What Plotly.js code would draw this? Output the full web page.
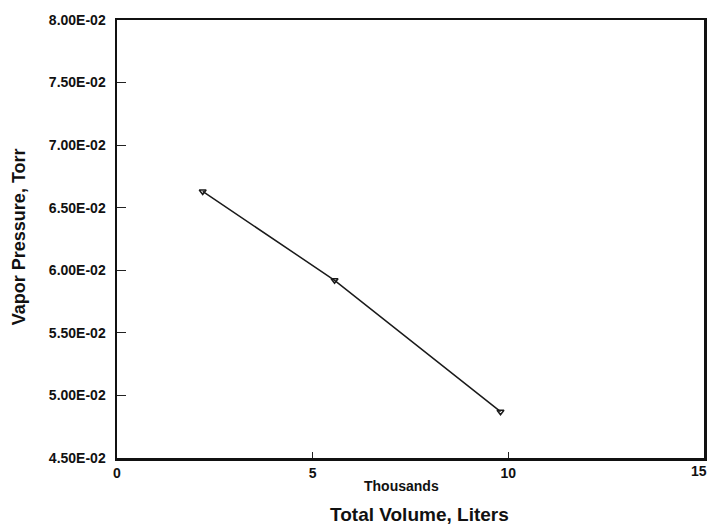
<!DOCTYPE html>
<html>
<head>
<meta charset="utf-8">
<script src="https://cdn.plot.ly/plotly-3.0.1.min.js"></script>
<style>html,body{margin:0;padding:0;background:#fff;}#chart{width:710px;height:529px;}</style>
</head>
<body>
<div id="chart"></div>
<script>
// Data (x in thousands of liters, y in Torr)
var volumeThousands = [2.19, 5.56, 9.8];
var vaporPressure = [0.0663, 0.0592, 0.0487];

var yTickVals = [0.045, 0.05, 0.055, 0.06, 0.065, 0.07, 0.075, 0.08];
var yTickText = ["4.50E-02", "5.00E-02", "5.50E-02", "6.00E-02", "6.50E-02", "7.00E-02", "7.50E-02", "8.00E-02"];
var xTickVals = [0, 5, 10, 15];
var xTickText = ["0", "5", "10", "15"];

var FONT = "Liberation Sans, Arial, Helvetica, sans-serif";

var trace = {
  x: volumeThousands,
  y: vaporPressure,
  mode: "lines+markers",
  line: {color: "#1a1a1a", width: 1.5},
  marker: {symbol: "triangle-down-open", size: 6, color: "#1a1a1a", line: {width: 1.5, color: "#1a1a1a"}},
  showlegend: false,
  hoverinfo: "skip"
};

// last x tick label sits at the right edge; draw it as an annotation so it stays inside the page
var lastIdx = xTickText.length - 1;
var shownXText = xTickText.map(function (t, i) { return i === lastIdx ? "" : t; });

var layout = {
  width: 710,
  height: 529,
  margin: {l: 117, r: 6, t: 20, b: 71},
  paper_bgcolor: "#ffffff",
  plot_bgcolor: "#ffffff",
  font: {family: FONT, color: "#111111", size: 14},
  xaxis: {
    range: [0, 15],
    tickvals: xTickVals,
    ticktext: shownXText,
    ticks: "inside",
    ticklen: 6,
    tickwidth: 1,
    tickcolor: "#222",
    showgrid: false,
    zeroline: false,
    showline: true,
    linewidth: 2.5,
    linecolor: "#111",
    mirror: true,
    tickfont: {family: FONT, size: 14, color: "#111", weight: "bold"},
    ticklabelstandoff: 1
  },
  yaxis: {
    range: [0.045, 0.08],
    tickvals: yTickVals,
    ticktext: yTickText,
    ticks: "inside",
    ticklen: 9,
    tickwidth: 1,
    tickcolor: "#222",
    showgrid: false,
    zeroline: false,
    showline: true,
    linewidth: 2.5,
    linecolor: "#111",
    mirror: true,
    tickfont: {family: FONT, size: 14, color: "#111", weight: "bold"},
    ticklabelstandoff: 6
  },
  annotations: [
    {text: "<b>" + xTickText[lastIdx] + "</b>", xref: "x", yref: "paper", x: xTickVals[lastIdx], y: 0, xanchor: "right", yanchor: "top", xshift: 5, yshift: -3, showarrow: false, font: {family: FONT, size: 14, color: "#111"}},
    {text: "<b>Thousands</b>", xref: "paper", yref: "paper", x: 0.484, y: -0.064, xanchor: "center", yanchor: "middle", showarrow: false, font: {family: FONT, size: 14, color: "#111"}},
    {text: "<b>Total Volume, Liters</b>", xref: "paper", yref: "paper", x: 0.515, y: -0.13, xanchor: "center", yanchor: "middle", showarrow: false, font: {family: FONT, size: 19, color: "#111"}},
    {text: "<b>Vapor Pressure, Torr</b>", xref: "paper", yref: "paper", x: -0.168, y: 0.505, xanchor: "center", yanchor: "middle", textangle: -90, showarrow: false, font: {family: FONT, size: 18, color: "#111"}}
  ]
};

Plotly.newPlot("chart", [trace], layout, {displayModeBar: false, staticPlot: true});
</script>
</body>
</html>
